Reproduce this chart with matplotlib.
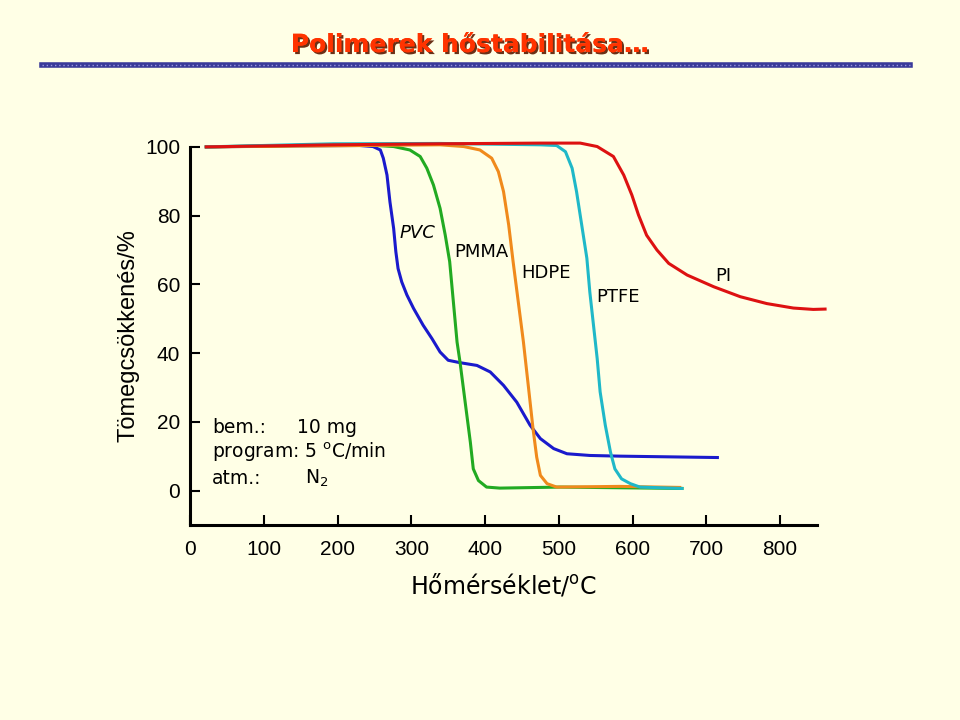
import matplotlib.pyplot as plt
import matplotlib.patheffects as pe
from matplotlib.lines import Line2D

# TGA curves: temperature (C) vs remaining mass (%)
pvc_t = [22, 149, 230, 248, 258, 262, 267, 271, 276, 279, 282, 287, 294, 303, 316, 328, 339, 350,
         366, 389, 407, 425, 443, 461, 475, 493, 511, 542, 583, 715]
pvc_w = [100, 100.3, 100.4, 100.1, 99.1, 96.7, 91.8, 84.0, 76.3, 69.5, 64.6, 60.7, 56.9, 53.0, 48.1,
         44.2, 40.3, 37.9, 37.2, 36.4, 34.5, 30.6, 25.7, 19.0, 15.1, 12.2, 10.7, 10.2, 10.0, 9.6]

pmma_t = [22, 230, 276, 298, 312, 321, 330, 339, 346, 352, 357, 362, 366, 373, 380, 384, 391, 402, 420, 502, 667]
pmma_w = [100, 100.7, 100.1, 99.1, 97.2, 93.8, 88.9, 82.1, 74.3, 66.6, 54.9, 43.2, 37.4, 25.7, 14.1, 6.3, 2.9, 1.0, 0.7, 1.0, 0.6]

hdpe_t = [22, 339, 371, 393, 409, 418, 425, 432, 438, 445, 452, 459, 465, 470, 475, 484, 497, 583, 664]
hdpe_w = [100, 100.6, 100.1, 99.1, 96.7, 92.8, 87.0, 77.3, 66.6, 54.9, 43.2, 29.7, 18.0, 9.7, 4.4, 2.0, 1.0, 1.2, 0.9]

ptfe_t = [22, 194, 339, 475, 497, 509, 518, 524, 531, 538, 542, 547, 552, 556, 563, 570, 576, 585, 597, 610, 667]
ptfe_w = [100, 100.9, 101.0, 100.6, 100.4, 98.6, 93.8, 87.0, 77.3, 67.6, 57.8, 48.1, 38.4, 28.7, 19.0, 11.2, 6.3, 3.4, 2.0, 1.0, 0.6]

pi_t = [22, 194, 339, 475, 529, 552, 574, 588, 599, 608, 619, 633, 649, 674, 710, 746, 782, 818, 845, 861]
pi_w = [100, 100.6, 100.9, 101.1, 101.1, 100.1, 97.2, 91.8, 86.0, 80.2, 74.3, 70.0, 66.1, 62.7, 59.3, 56.4, 54.4, 53.1, 52.7, 52.8]

x_ticks = [0, 100, 200, 300, 400, 500, 600, 700, 800]
y_ticks = [0, 20, 40, 60, 80, 100]

bg = '#ffffe6'
fig = plt.figure(figsize=(9.6, 7.2), dpi=100, facecolor=bg)
ax = fig.add_axes([0.198, 0.271, 0.653, 0.525])
ax.set_facecolor(bg)

curves = [
    (pvc_t, pvc_w, '#1a1acc'),
    (pmma_t, pmma_w, '#22aa22'),
    (hdpe_t, hdpe_w, '#f08a1c'),
    (ptfe_t, ptfe_w, '#1fb8c8'),
    (pi_t, pi_w, '#dd1111'),
]
for t, w, c in curves:
    ax.plot(t, w, color=c, lw=2.2, clip_on=False, solid_joinstyle='round')

ax.set_xlim(0, 850)
ax.set_ylim(-10, 100)
for s in ['top', 'right']:
    ax.spines[s].set_visible(False)
for s in ['left', 'bottom']:
    ax.spines[s].set_linewidth(2.2)

ax.set_xticks(x_ticks)
ax.set_yticks(y_ticks)
ax.tick_params(axis='both', direction='in', length=7, width=1.5, labelsize=15,
               labelfontfamily='Liberation Sans')
ax.tick_params(axis='x', pad=11)
ax.tick_params(axis='y', pad=7)

ax.set_ylabel('Tömegcsökkenés/%', fontsize=17, family='Liberation Sans', labelpad=4)
ax.set_xlabel('Hőmérséklet/$^{\\mathrm{o}}$C', fontsize=17, labelpad=9)

# curve labels
lbl = dict(fontsize=13, ha='center', va='center')
ax.text(308, 75, 'PVC', style='italic', **lbl)
ax.text(395, 69.4, 'PMMA', **lbl)
ax.text(483, 63.3, 'HDPE', **lbl)
ax.text(580, 56.3, 'PTFE', **lbl)
ax.text(723, 62.4, 'PI', **lbl)

# measurement conditions
note = dict(fontsize=13.5, ha='left', va='center')
ax.text(30, 18.4, 'bem.:', **note)
ax.text(145, 18.4, '10 mg', **note)
ax.text(30, 11.1, 'program: 5 $^{\\mathrm{o}}$C/min', **note)
ax.text(30, 3.5, 'atm.:', **note)
ax.text(156, 3.5, 'N$_2$', **note)

# title with shadow and dotted bar
fig.text(0.49, 0.9375, 'Polimerek hőstabilitása…', fontsize=18, fontweight='bold',
         color='#ff3300', ha='center', va='center',
         path_effects=[pe.withSimplePatchShadow(offset=(1.5, -1.5), shadow_rgbFace='#5a1a00', alpha=0.9),
                       pe.Normal()])
fig.add_artist(Line2D([0.044, 0.948], [0.910, 0.910], transform=fig.transFigure,
                      color='#3a3a9a', lw=4))
fig.add_artist(Line2D([0.044, 0.948], [0.910, 0.910], transform=fig.transFigure,
                      color='#9999dd', lw=1, linestyle=(0, (1, 2))))

fig.savefig('out.png', dpi=100, facecolor=bg)
